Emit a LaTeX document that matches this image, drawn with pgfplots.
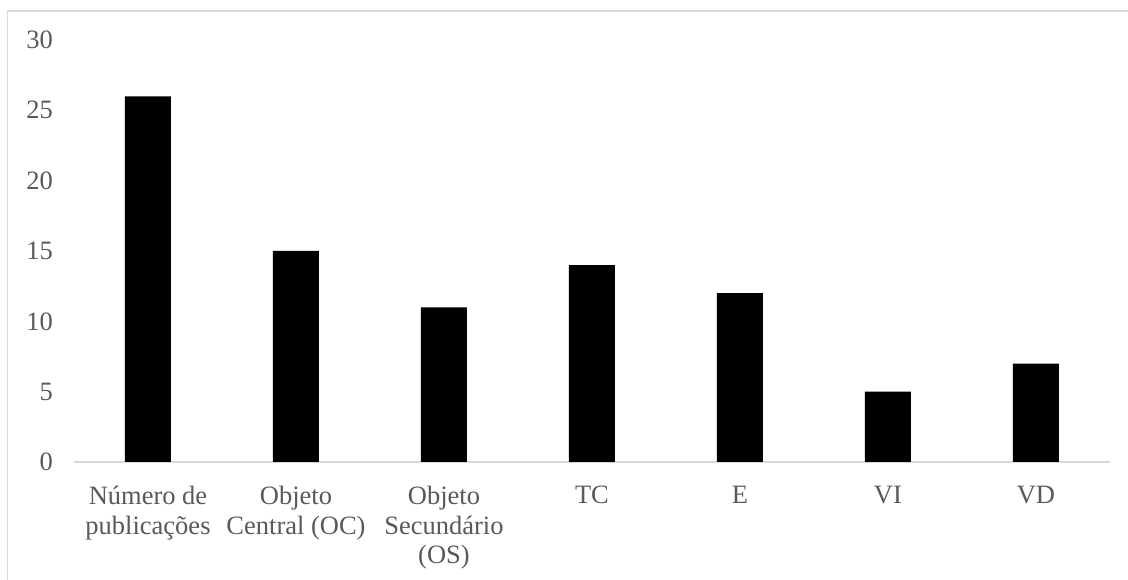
\documentclass[border=0pt]{standalone}
\usepackage{fontspec}
\setmainfont{Liberation Serif}
\usepackage{pgfplots}
\pgfplotsset{compat=1.18}
\definecolor{txtgray}{HTML}{595959}
\definecolor{linegray}{HTML}{D9D9D9}
\begin{document}
\begin{tikzpicture}[x=1pt,y=1pt]
  % canvas and chart frame
  \path[use as bounding box] (0,0) rectangle (1128,580);
  \draw[linegray, line width=1.2pt] (7.5,0) -- (7.5,569) -- (1128,569);
  \begin{axis}[
    at={(74pt,118pt)}, anchor=south west,
    scale only axis, width=1036pt, height=422pt,
    xmin=-0.5, xmax=6.5, ymin=0, ymax=30,
    ytick={0,5,...,30},
    xtick={0,...,6},
    xticklabels={{Número de\\publicações},{Objeto\\Central (OC)},{Objeto\\Secundário\\(OS)},TC,E,VI,VD},
    axis x line*=bottom, axis y line*=left,
    x axis line style={draw=linegray, line width=1.5pt, -},
    y axis line style={draw=none},
    major tick length=0pt,
    tick style={draw=none},
    ticklabel style={font=\fontsize{26.5}{29.5}\selectfont, text=txtgray},
    yticklabel style={anchor=east, inner sep=0pt, xshift=-21pt},
    xticklabel style={anchor=north, align=center, inner sep=0pt, yshift=-24pt},
    /pgf/number format/assume math mode=true,
    clip=false,
  ]
    \addplot[ybar, bar width=46pt, fill=black, draw=none]
      coordinates {(0,26) (1,15) (2,11) (3,14) (4,12) (5,5) (6,7)};
  \end{axis}
\end{tikzpicture}
\end{document}
